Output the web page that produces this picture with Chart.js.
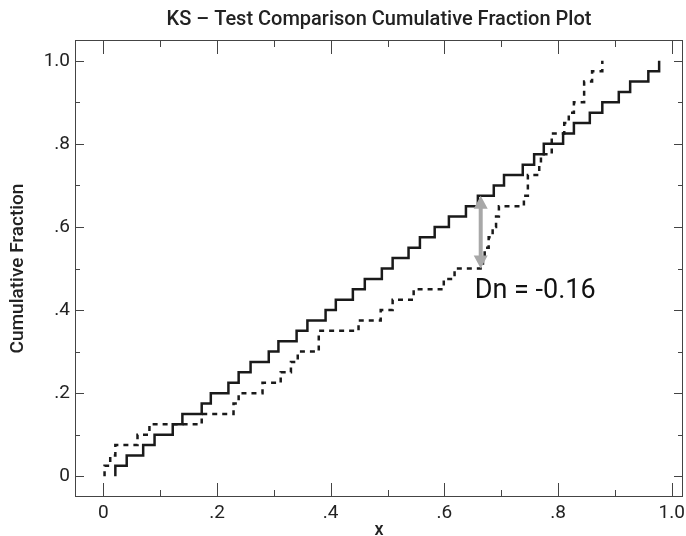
<!DOCTYPE html>
<html>
<head>
<meta charset="utf-8">
<script src="https://cdn.jsdelivr.net/npm/chart.js@4.4.1/dist/chart.umd.min.js"></script>
<style>
  html, body { margin: 0; padding: 0; background: #fff; }
</style>
</head>
<body>
<canvas id="ks-chart" width="686" height="536"></canvas>
<script>
// sorted samples
const sampleSolid = [
    0.021, 0.041, 0.070, 0.090, 0.122, 0.139, 0.173, 0.189, 0.220, 0.238,
    0.259, 0.291, 0.308, 0.340, 0.359, 0.391, 0.409, 0.439, 0.460, 0.490,
    0.509, 0.537, 0.557, 0.583, 0.608, 0.638, 0.659, 0.687, 0.705, 0.738,
    0.758, 0.775, 0.809, 0.828, 0.856, 0.878, 0.907, 0.927, 0.959, 0.978
];
const sampleDashed = [
    0.002, 0.012, 0.021, 0.060, 0.081, 0.173, 0.229, 0.238, 0.280, 0.312,
    0.330, 0.342, 0.379, 0.379, 0.449, 0.488, 0.509, 0.546, 0.599, 0.618,
    0.668, 0.671, 0.678, 0.685, 0.691, 0.696, 0.740, 0.747, 0.747, 0.767,
    0.770, 0.789, 0.789, 0.811, 0.819, 0.828, 0.846, 0.846, 0.860, 0.878
];

const majorTicks = [0, 0.2, 0.4, 0.6, 0.8, 1.0];
const minorTicks = [0.1, 0.3, 0.5, 0.7, 0.9];
const tickLabels = ['0', '.2', '.4', '.6', '.8', '1.0'];

// largest gap marker
const dnX = 0.664;
const dnTop = 0.675;
const dnBottom = 0.5;
const dnLabel = 'Dn = -0.16';

const FONT = 'Roboto';

function cumulative(sample) {
    const pts = [{ x: sample[0], y: 0 }];
    sample.forEach((v, i) => pts.push({ x: v, y: (i + 1) / sample.length }));
    return pts;
}

function tickText(v) {
    const i = majorTicks.findIndex(t => Math.abs(t - v) < 1e-6);
    return i >= 0 ? tickLabels[i] : '';
}

const frameTicks = {
    id: 'frameTicks',
    afterDatasetsDraw(chart) {
        const { ctx, chartArea: a, scales: { x, y } } = chart;
        ctx.save();
        ctx.strokeStyle = '#444';
        ctx.lineWidth = 1;
        ctx.strokeRect(a.left + 0.5, a.top + 0.5, a.width - 1, a.height - 1);

        ctx.beginPath();
        const marks = majorTicks.map(v => [v, true]).concat(minorTicks.map(v => [v, false]));
        marks.forEach(([v, major]) => {
            const px = Math.round(x.getPixelForValue(v)) + 0.5;
            const lx = major ? 14 : 7;
            ctx.moveTo(px, a.bottom);
            ctx.lineTo(px, a.bottom - lx);
            ctx.moveTo(px, a.top);
            ctx.lineTo(px, a.top + lx);

            const py = Math.round(y.getPixelForValue(v)) + 0.5;
            const ly = major ? 9 : 5;
            ctx.moveTo(a.left, py);
            ctx.lineTo(a.left + ly, py);
            ctx.moveTo(a.right, py);
            ctx.lineTo(a.right - ly, py);
        });
        ctx.stroke();

        // double headed arrow for Dn
        const ax = x.getPixelForValue(dnX);
        const y1 = y.getPixelForValue(dnTop);
        const y2 = y.getPixelForValue(dnBottom);
        const head = 13, half = 7;
        ctx.strokeStyle = '#a8a8a8';
        ctx.fillStyle = '#a8a8a8';
        ctx.lineWidth = 4;
        ctx.beginPath();
        ctx.moveTo(ax, y1 + head - 1);
        ctx.lineTo(ax, y2 - head + 1);
        ctx.stroke();
        ctx.beginPath();
        ctx.moveTo(ax, y1);
        ctx.lineTo(ax - half, y1 + head);
        ctx.lineTo(ax + half, y1 + head);
        ctx.closePath();
        ctx.moveTo(ax, y2);
        ctx.lineTo(ax - half, y2 - head);
        ctx.lineTo(ax + half, y2 - head);
        ctx.closePath();
        ctx.fill();

        ctx.fillStyle = '#111';
        ctx.font = '27px ' + FONT;
        ctx.textBaseline = 'middle';
        ctx.textAlign = 'left';
        ctx.fillText(dnLabel, ax - 6, y2 + 23);
        ctx.restore();
    }
};

new Chart(document.getElementById('ks-chart'), {
    type: 'line',
    data: {
        datasets: [
            {
                label: 'Sample 1',
                data: cumulative(sampleSolid),
                borderColor: '#1a1a1a',
                borderWidth: 2.5,
                stepped: 'before',
                pointRadius: 0,
                fill: false
            },
            {
                label: 'Sample 2',
                data: cumulative(sampleDashed),
                borderColor: '#1a1a1a',
                borderWidth: 2.5,
                borderDash: [5, 5],
                stepped: 'before',
                pointRadius: 0,
                fill: false
            }
        ]
    },
    options: {
        responsive: false,
        animation: false,
        layout: { padding: { right: 3 } },
        plugins: {
            legend: { display: false },
            tooltip: { enabled: false },
            title: {
                display: true,
                fullSize: false,
                text: 'KS \u2013 Test Comparison Cumulative Fraction Plot',
                color: '#222',
                font: { family: FONT, size: 20, weight: '500', lineHeight: 1.2 },
                padding: { top: 8, bottom: 8 }
            }
        },
        scales: {
            x: {
                type: 'linear',
                min: -0.05,
                max: 1.02,
                grid: { display: false, drawTicks: false },
                border: { display: false },
                ticks: {
                    stepSize: 0.2,
                    includeBounds: false,
                    padding: 5,
                    color: '#222',
                    font: { family: FONT, size: 19 },
                    callback: tickText
                },
                title: {
                    display: true,
                    text: 'x',
                    color: '#222',
                    font: { family: FONT, size: 18, weight: '500', lineHeight: 0.6 },
                    padding: { top: 0, bottom: 0 }
                },
                afterFit(scale) {
                    scale.height = 39;
                    scale.paddingLeft = 0;
                    scale.paddingRight = 0;
                }
            },
            y: {
                type: 'linear',
                min: -0.05,
                max: 1.05,
                grid: { display: false, drawTicks: false },
                border: { display: false },
                ticks: {
                    stepSize: 0.2,
                    includeBounds: false,
                    padding: 5,
                    color: '#222',
                    font: { family: FONT, size: 19 },
                    callback: tickText
                },
                title: {
                    display: true,
                    text: 'Cumulative Fraction',
                    color: '#222',
                    font: { family: FONT, size: 19, weight: '500', lineHeight: 1.2 },
                    padding: { top: 7, bottom: 0 }
                },
                afterFit(scale) {
                    scale.width = 75;
                    scale.paddingTop = 0;
                    scale.paddingBottom = 0;
                }
            }
        }
    },
    plugins: [frameTicks]
});
</script>
</body>
</html>
